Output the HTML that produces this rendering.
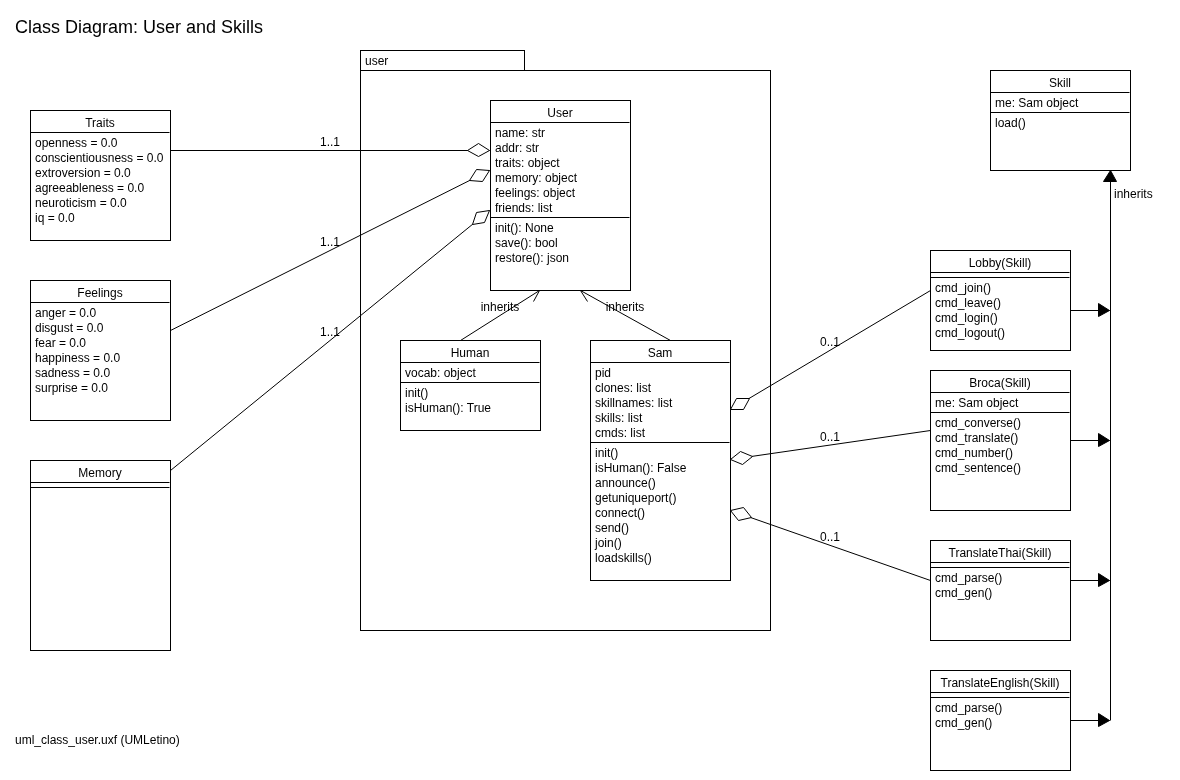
<!DOCTYPE html>
<html lang="en">
<head>
<meta charset="utf-8">
<title>Class Diagram: User and Skills</title>
<style>
html, body { margin: 0; padding: 0; background: #ffffff; }
body { width: 1180px; height: 780px; overflow: hidden; position: relative;
  font-family: "Liberation Sans", sans-serif; color: #000; }
h1 { position: absolute; left: 15px; top: 16px; margin: 0; font-size: 18px; line-height: 22px;
  font-weight: normal; white-space: nowrap; }
.foot { position: absolute; left: 15px; top: 733px; font-size: 12px; line-height: 15px; white-space: nowrap; }
#wrap { position: absolute; left: 0; top: 0; width: 1180px; height: 780px; will-change: transform; }
svg { position: absolute; left: 0; top: 0; }
svg rect { fill: #ffffff; stroke: #000; stroke-width: 1; }
svg line { stroke: #000; stroke-width: 1; }
svg polygon.dia { fill: #ffffff; stroke: #000; stroke-width: 1; }
svg polygon.fill { fill: #000; stroke: #000; stroke-width: 1; }
svg polyline.open { fill: none; stroke: #000; stroke-width: 1; }
svg text { font-family: "Liberation Sans", sans-serif; font-size: 12px; fill: #000; }
</style>
</head>
<body>
<div id="wrap">
<h1>Class Diagram: User and Skills</h1>
<svg width="1180" height="780" viewBox="0 0 1180 780">
<g>
<rect x="360.5" y="50.5" width="164" height="20"/>
<rect x="360.5" y="70.5" width="410" height="560"/>
<text x="365" y="65">user</text>
</g>
<g>
<rect x="30.5" y="110.5" width="140" height="130"/>
<text x="100.0" y="127" text-anchor="middle">Traits</text>
<line x1="30.5" y1="132.5" x2="169.5" y2="132.5"/>
<text x="35" y="147">openness = 0.0</text>
<text x="35" y="162">conscientiousness = 0.0</text>
<text x="35" y="177">extroversion = 0.0</text>
<text x="35" y="192">agreeableness = 0.0</text>
<text x="35" y="207">neuroticism = 0.0</text>
<text x="35" y="222">iq = 0.0</text>
</g>
<g>
<rect x="30.5" y="280.5" width="140" height="140"/>
<text x="100.0" y="297" text-anchor="middle">Feelings</text>
<line x1="30.5" y1="302.5" x2="169.5" y2="302.5"/>
<text x="35" y="317">anger = 0.0</text>
<text x="35" y="332">disgust = 0.0</text>
<text x="35" y="347">fear = 0.0</text>
<text x="35" y="362">happiness = 0.0</text>
<text x="35" y="377">sadness = 0.0</text>
<text x="35" y="392">surprise = 0.0</text>
</g>
<g>
<rect x="30.5" y="460.5" width="140" height="190"/>
<text x="100.0" y="477" text-anchor="middle">Memory</text>
<line x1="30.5" y1="482.5" x2="169.5" y2="482.5"/>
<line x1="30.5" y1="487.5" x2="169.5" y2="487.5"/>
</g>
<g>
<rect x="490.5" y="100.5" width="140" height="190"/>
<text x="560.0" y="117" text-anchor="middle">User</text>
<line x1="490.5" y1="122.5" x2="629.5" y2="122.5"/>
<text x="495" y="137">name: str</text>
<text x="495" y="152">addr: str</text>
<text x="495" y="167">traits: object</text>
<text x="495" y="182">memory: object</text>
<text x="495" y="197">feelings: object</text>
<text x="495" y="212">friends: list</text>
<line x1="490.5" y1="217.5" x2="629.5" y2="217.5"/>
<text x="495" y="232">init(): None</text>
<text x="495" y="247">save(): bool</text>
<text x="495" y="262">restore(): json</text>
</g>
<g>
<rect x="400.5" y="340.5" width="140" height="90"/>
<text x="470.0" y="357" text-anchor="middle">Human</text>
<line x1="400.5" y1="362.5" x2="539.5" y2="362.5"/>
<text x="405" y="377">vocab: object</text>
<line x1="400.5" y1="382.5" x2="539.5" y2="382.5"/>
<text x="405" y="397">init()</text>
<text x="405" y="412">isHuman(): True</text>
</g>
<g>
<rect x="590.5" y="340.5" width="140" height="240"/>
<text x="660.0" y="357" text-anchor="middle">Sam</text>
<line x1="590.5" y1="362.5" x2="729.5" y2="362.5"/>
<text x="595" y="377">pid</text>
<text x="595" y="392">clones: list</text>
<text x="595" y="407">skillnames: list</text>
<text x="595" y="422">skills: list</text>
<text x="595" y="437">cmds: list</text>
<line x1="590.5" y1="442.5" x2="729.5" y2="442.5"/>
<text x="595" y="457">init()</text>
<text x="595" y="472">isHuman(): False</text>
<text x="595" y="487">announce()</text>
<text x="595" y="502">getuniqueport()</text>
<text x="595" y="517">connect()</text>
<text x="595" y="532">send()</text>
<text x="595" y="547">join()</text>
<text x="595" y="562">loadskills()</text>
</g>
<g>
<rect x="990.5" y="70.5" width="140" height="100"/>
<text x="1060.0" y="87" text-anchor="middle">Skill</text>
<line x1="990.5" y1="92.5" x2="1129.5" y2="92.5"/>
<text x="995" y="107">me: Sam object</text>
<line x1="990.5" y1="112.5" x2="1129.5" y2="112.5"/>
<text x="995" y="127">load()</text>
</g>
<g>
<rect x="930.5" y="250.5" width="140" height="100"/>
<text x="1000.0" y="267" text-anchor="middle">Lobby(Skill)</text>
<line x1="930.5" y1="272.5" x2="1069.5" y2="272.5"/>
<line x1="930.5" y1="277.5" x2="1069.5" y2="277.5"/>
<text x="935" y="292">cmd_join()</text>
<text x="935" y="307">cmd_leave()</text>
<text x="935" y="322">cmd_login()</text>
<text x="935" y="337">cmd_logout()</text>
</g>
<g>
<rect x="930.5" y="370.5" width="140" height="140"/>
<text x="1000.0" y="387" text-anchor="middle">Broca(Skill)</text>
<line x1="930.5" y1="392.5" x2="1069.5" y2="392.5"/>
<text x="935" y="407">me: Sam object</text>
<line x1="930.5" y1="412.5" x2="1069.5" y2="412.5"/>
<text x="935" y="427">cmd_converse()</text>
<text x="935" y="442">cmd_translate()</text>
<text x="935" y="457">cmd_number()</text>
<text x="935" y="472">cmd_sentence()</text>
</g>
<g>
<rect x="930.5" y="540.5" width="140" height="100"/>
<text x="1000.0" y="557" text-anchor="middle">TranslateThai(Skill)</text>
<line x1="930.5" y1="562.5" x2="1069.5" y2="562.5"/>
<line x1="930.5" y1="567.5" x2="1069.5" y2="567.5"/>
<text x="935" y="582">cmd_parse()</text>
<text x="935" y="597">cmd_gen()</text>
</g>
<g>
<rect x="930.5" y="670.5" width="140" height="100"/>
<text x="1000.0" y="687" text-anchor="middle">TranslateEnglish(Skill)</text>
<line x1="930.5" y1="692.5" x2="1069.5" y2="692.5"/>
<line x1="930.5" y1="697.5" x2="1069.5" y2="697.5"/>
<text x="935" y="712">cmd_parse()</text>
<text x="935" y="727">cmd_gen()</text>
</g>
<line x1="170.5" y1="150.5" x2="489.5" y2="150.5"/>
<polygon class="dia" points="489.5,150.5 478.5,143.5 467.5,150.5 478.5,156.5"/>
<line x1="170.5" y1="330.5" x2="489.5" y2="170.5"/>
<polygon class="dia" points="489.5,170.5 476.5,169.5 469.5,180.5 482.5,181.5"/>
<line x1="170.5" y1="470.5" x2="489.5" y2="210.5"/>
<polygon class="dia" points="489.5,210.5 476.5,212.5 472.5,224.5 484.5,222.5"/>
<line x1="460.5" y1="340.5" x2="539.5" y2="290.5"/>
<polyline class="open" points="526.5,290.5 539.5,290.5 533.5,301.5"/>
<line x1="670.5" y1="340.5" x2="580.5" y2="290.5"/>
<polyline class="open" points="593.5,290.5 580.5,290.5 587.5,301.5"/>
<line x1="930.5" y1="290.5" x2="730.5" y2="409.5"/>
<polygon class="dia" points="730.5,409.5 743.5,409.5 749.5,398.5 736.5,398.5"/>
<line x1="930.5" y1="430.5" x2="730.5" y2="459.5"/>
<polygon class="dia" points="730.5,459.5 742.5,464.5 752.5,456.5 740.5,451.5"/>
<line x1="930.5" y1="580.5" x2="730.5" y2="510.5"/>
<polygon class="dia" points="730.5,510.5 738.5,520.5 751.5,517.5 743.5,507.5"/>
<line x1="1110.5" y1="720.5" x2="1110.5" y2="170.5"/>
<polygon class="fill" points="1110.5,170.5 1103.5,181.5 1116.5,181.5"/>
<line x1="1070.5" y1="310.5" x2="1109.5" y2="310.5"/>
<polygon class="fill" points="1109.5,310.5 1098.5,303.5 1098.5,316.5"/>
<line x1="1070.5" y1="440.5" x2="1109.5" y2="440.5"/>
<polygon class="fill" points="1109.5,440.5 1098.5,433.5 1098.5,446.5"/>
<line x1="1070.5" y1="580.5" x2="1109.5" y2="580.5"/>
<polygon class="fill" points="1109.5,580.5 1098.5,573.5 1098.5,586.5"/>
<line x1="1070.5" y1="720.5" x2="1109.5" y2="720.5"/>
<polygon class="fill" points="1109.5,720.5 1098.5,713.5 1098.5,726.5"/>
<text x="330" y="146" text-anchor="middle">1..1</text>
<text x="330" y="246" text-anchor="middle">1..1</text>
<text x="330" y="336" text-anchor="middle">1..1</text>
<text x="830" y="346" text-anchor="middle">0..1</text>
<text x="830" y="441" text-anchor="middle">0..1</text>
<text x="830" y="541" text-anchor="middle">0..1</text>
<text x="500" y="311" text-anchor="middle">inherits</text>
<text x="625" y="311" text-anchor="middle">inherits</text>
<text x="1114" y="198">inherits</text>
</svg>
<div class="foot">uml_class_user.uxf (UMLetino)</div>
</div>
</body>
</html>
